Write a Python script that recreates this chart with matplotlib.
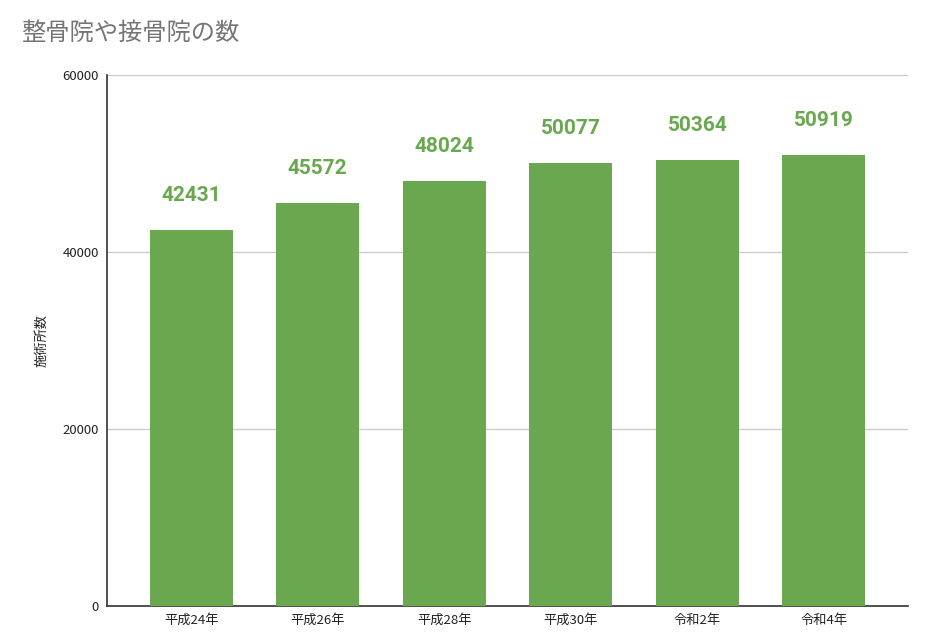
import matplotlib
matplotlib.use("Agg")
import matplotlib.pyplot as plt

plt.rcParams['font.family'] = ['Noto Sans CJK JP', 'DejaVu Sans']

# データ
categories = ["平成24年", "平成26年", "平成28年", "平成30年", "令和2年", "令和4年"]
values = [42431, 45572, 48024, 50077, 50364, 50919]
y_ticks = [0, 20000, 40000, 60000]

bar_color = "#6aa84f"

fig = plt.figure(figsize=(9.26, 6.33), dpi=100)
ax = fig.add_axes([0.1156, 0.0427, 0.865, 0.8388])

x = range(len(categories))
ax.bar(x, values, width=0.657, color=bar_color, zorder=3)

for i, v in zip(x, values):
    ax.annotate(str(v), (i, v), xytext=(0, 18), textcoords="offset points",
                ha="center", va="bottom", fontsize=15, fontweight="bold",
                color=bar_color, family=["Roboto", "DejaVu Sans"])

ax.set_xlim(-0.665, len(categories) - 1 + 0.665)
ax.set_ylim(0, 60000)
ax.set_yticks(y_ticks)
ax.set_yticklabels([str(t) for t in y_ticks], fontsize=9.5, color="#222222")
ax.set_xticks(list(x))
ax.set_xticklabels(categories, fontsize=9.5, color="#222222")
ax.tick_params(axis="both", length=0, pad=6)

ax.grid(axis="y", color="#cccccc", linewidth=1, zorder=0)
for side in ("top", "right"):
    ax.spines[side].set_visible(False)
for side in ("left", "bottom"):
    ax.spines[side].set_color("#333333")
    ax.spines[side].set_linewidth(1.2)

ax.set_ylabel("施術所数", fontsize=9.5, color="#222222", labelpad=10)

fig.text(0.023, 0.948, "整骨院や接骨院の数", fontsize=17.5, color="#757575",
         ha="left", va="center")

fig.savefig("out.png", dpi=100)
